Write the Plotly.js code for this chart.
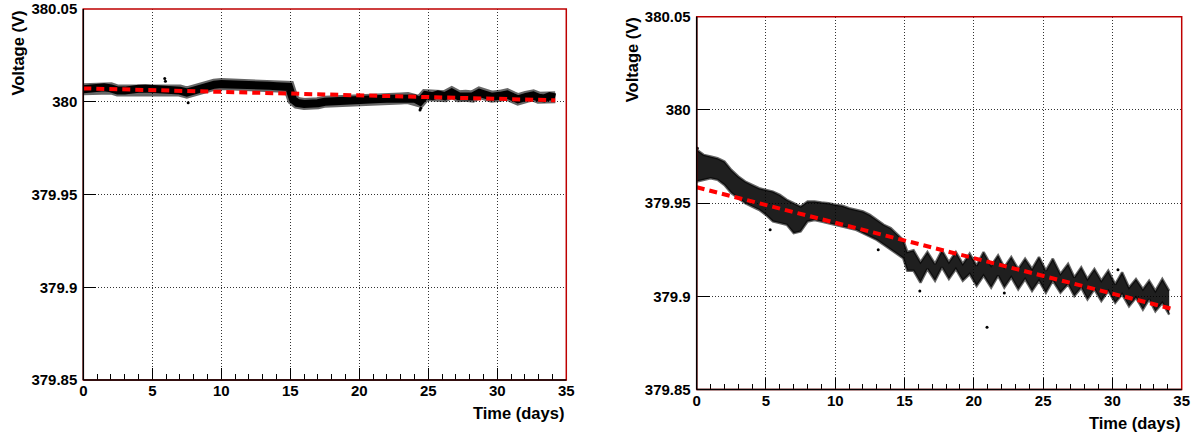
<!DOCTYPE html>
<html><head><meta charset="utf-8">
<script src="https://cdn.plot.ly/plotly-3.0.1.min.js"></script>
<style>html,body{margin:0;padding:0;background:#fff}#chart{width:1195px;height:434px}</style>
</head><body><div id="chart"></div>
<script>
// ---------- data ----------
const yTickVals = [379.85, 379.9, 379.95, 380, 380.05];
const yTickText = ["379.85", "379.9", "379.95", "380", "380.05"];

// Left panel: centre of the (dense) measurement band
const leftT = [0,0.5,1,1.5,2,2.5,3,3.5,4,4.5,5,5.5,6,6.5,7,7.5,8,8.5,9,9.5,10,10.5,11,11.5,12,12.5,13,13.5,14,14.5,
  14.9,15.2,15.5,
  16,16.5,17,17.5,18,18.5,19,19.5,20,20.5,21,21.5,22,22.5,23,23.5,24,
  24.4,24.8,25.3,25.7,26.2,26.7,27.2,27.7,28.2,28.7,29.2,29.6,30.2,30.7,31.1,31.5,32.1,32.6,33.0,33.4,33.8,34.2];
const leftV = [380.0067,380.0072,380.0078,380.0078,380.0072,380.0060,380.0060,380.0068,380.0070,380.0072,380.0070,380.0072,380.0070,380.0066,380.0060,380.0050,380.0062,380.0078,380.0088,380.0092,380.0095,380.0095,380.0094,380.0094,380.0092,380.0090,380.0088,380.0086,380.0084,380.0082,
  380.0080,380.0012,379.9994,
  379.9988,379.9986,379.9992,380.0000,380.0003,380.0004,380.0006,380.0008,380.0010,380.0012,380.0014,380.0015,380.0016,380.0017,380.0018,380.0020,380.0018,
  380.0002,380.0036,380.0030,380.0040,380.0030,380.0050,380.0030,380.0032,380.0028,380.0048,380.0030,380.0027,380.0032,380.0040,380.0026,380.0013,380.0026,380.0034,380.0022,380.0018,380.0030,380.0024];
const leftOutT = [5.9, 5.95, 7.6, 24.4, 24.45];
const leftOutV = [380.0125, 380.0110, 379.9995, 379.9955, 379.9965];
const leftFitT = [0, 34.2];
const leftFitV = [380.0072, 380.0008];

// Right panel: upper / lower envelope of the measurement cloud
const rightT = [0,0.5,1,1.5,2,2.5,3,3.5,4,4.5,5,5.5,6,6.5,7,7.5,8,8.5,9,9.5,10,10.5,11,11.5,12,12.5,13,13.5,14,14.5,14.9,
  15.2,15.65,16.15,16.65,17.2,17.7,18.2,18.7,19.2,19.7,20.2,20.7,21.25,21.75,22.2,22.7,23.2,23.7,24.2,24.7,25.2,25.7,26.25,26.8,27.25,27.75,28.2,28.7,29.2,29.7,30.2,30.7,31.2,31.7,32.2,32.65,33.1,33.6,34.1];
const rightUpper = [379.9786,379.9759,379.9750,379.9741,379.9723,379.9678,379.9643,379.9616,379.9598,379.9580,379.9571,379.9562,379.9544,379.9518,379.9500,379.9482,379.9509,379.9509,379.9503,379.9500,379.9491,379.9486,379.9473,379.9464,379.9455,379.9437,379.9410,379.9384,379.9366,379.9330,379.9303,
  379.9238,379.9247,379.9183,379.9238,379.9174,379.9247,379.9183,379.9238,379.9174,379.9229,379.9165,379.9238,379.9165,379.9220,379.9156,379.9211,379.9147,379.9202,379.9147,379.9211,379.9138,379.9202,379.9120,379.9174,379.9102,379.9156,379.9093,379.9147,379.9084,379.9138,379.9065,379.9129,379.9047,379.9093,379.9038,379.9084,379.9029,379.9093,379.9029];
const rightLower = [379.9616,379.9625,379.9634,379.9625,379.9598,379.9554,379.9527,379.9500,379.9482,379.9464,379.9437,379.9402,379.9393,379.9384,379.9339,379.9348,379.9402,379.9410,379.9402,379.9393,379.9384,379.9378,379.9366,379.9357,379.9339,379.9321,379.9303,379.9277,379.9250,379.9223,379.9205,
  379.9138,379.9138,379.9074,379.9147,379.9084,379.9156,379.9093,379.9147,379.9084,379.9120,379.9056,379.9111,379.9047,379.9111,379.9047,379.9102,379.9038,379.9093,379.9029,379.9084,379.9020,379.9084,379.9020,379.9065,379.9002,379.9047,379.8984,379.9038,379.8975,379.9029,379.8965,379.9011,379.8947,379.8993,379.8929,379.8984,379.8920,379.8965,379.8902];
const rightOutT = [0.05, 5.3, 13.1, 16.1, 20.95, 22.2, 30.4];
const rightOutV = [379.9794, 379.9357, 379.9250, 379.9029, 379.8835, 379.9018, 379.9143];
const rightFitT = [0, 34.2];
const rightFitV = [379.9585, 379.8935];

// ---------- styling ----------
const FONT = "Liberation Sans, Arial, Helvetica, sans-serif";
const W = 1195, H = 434;
const L = {x0: 83.3, x1: 566.3, yt: 9, yb: 380};
const R = {x0: 696.7, x1: 1181.7, yt: 16.7, yb: 389.6};
const fitLine = {color: 'rgb(255,0,0)', width: 4, dash: '8px,5px'};
const GRID = '#333';

function xa(dom, anchor) {
  return {domain: dom, anchor: anchor, range: [0, 35], tick0: 0, dtick: 5, ticks: 'inside', ticklen: 12, tickcolor: '#000', tickwidth: 1,
    showline: false, zeroline: false, showgrid: true, gridcolor: GRID, griddash: '1px,2px', gridwidth: 1,
    minor: {tick0: 0, dtick: 1, ticks: 'inside', ticklen: 6, tickcolor: '#000', tickwidth: 1, showgrid: false},
    tickfont: {family: FONT, size: 15, color: '#000', weight: 'bold'}, automargin: false, fixedrange: true};
}
function ya(dom, anchor) {
  return {domain: dom, anchor: anchor, range: [379.85, 380.05], tickvals: yTickVals, ticktext: yTickText,
    ticks: 'inside', ticklen: 13, tickcolor: '#000', tickwidth: 1, showline: false, zeroline: false,
    showgrid: true, gridcolor: GRID, griddash: '1px,2px', gridwidth: 1, ticklabelstandoff: 5,
    tickfont: {family: FONT, size: 15, color: '#000', weight: 'bold'}, automargin: false, fixedrange: true};
}

const FRINGE = 'rgba(0,0,0,0.6)';
const traces = [
  // fringe + dense core of left band
  {x: leftT, y: leftV, xaxis: 'x', yaxis: 'y', mode: 'lines', line: {color: FRINGE, width: 12}, hoverinfo: 'skip'},
  {x: leftT, y: leftV, xaxis: 'x', yaxis: 'y', mode: 'lines', line: {color: '#000', width: 8}, hoverinfo: 'skip'},
  {x: leftOutT, y: leftOutV, xaxis: 'x', yaxis: 'y', mode: 'markers', marker: {color: '#000', size: 3}, hoverinfo: 'skip'},
  {x: leftFitT, y: leftFitV, xaxis: 'x', yaxis: 'y', mode: 'lines', line: fitLine, hoverinfo: 'skip'},
  // right cloud
  {x: rightT, y: rightLower, xaxis: 'x2', yaxis: 'y2', mode: 'lines', line: {color: FRINGE, width: 2.5}, hoverinfo: 'skip'},
  {x: rightT, y: rightUpper, xaxis: 'x2', yaxis: 'y2', mode: 'lines', fill: 'tonexty', fillcolor: 'rgba(0,0,0,0.88)', line: {color: FRINGE, width: 2.5}, hoverinfo: 'skip'},
  {x: rightOutT, y: rightOutV, xaxis: 'x2', yaxis: 'y2', mode: 'markers', marker: {color: '#000', size: 3}, hoverinfo: 'skip'},
  {x: rightFitT, y: rightFitV, xaxis: 'x2', yaxis: 'y2', mode: 'lines', line: fitLine, hoverinfo: 'skip'}
];

function frame(xr, yr) {
  return [
    {type: 'rect', xref: xr + ' domain', yref: yr + ' domain', x0: 0, x1: 1, y0: 0, y1: 1, line: {color: 'rgb(190,0,0)', width: 1.5}, layer: 'above'},
    {type: 'line', xref: xr + ' domain', yref: yr + ' domain', x0: 0, x1: 0, y0: 0, y1: 1, line: {color: '#000', width: 1.5}, layer: 'above'},
    {type: 'line', xref: xr + ' domain', yref: yr + ' domain', x0: 0, x1: 1, y0: 0, y1: 0, line: {color: '#000', width: 1.5}, layer: 'above'}
  ];
}

const titleFont = {family: FONT, size: 16.5, color: '#000', weight: 'bold'};
const layout = {
  width: W, height: H, autosize: false, showlegend: false,
  paper_bgcolor: '#fff', plot_bgcolor: '#fff',
  margin: {l: 0, r: 0, t: 0, b: 0, pad: 0},
  xaxis: xa([L.x0 / W, L.x1 / W], 'y'),
  yaxis: ya([(H - L.yb) / H, (H - L.yt) / H], 'x'),
  xaxis2: xa([R.x0 / W, R.x1 / W], 'y2'),
  yaxis2: ya([(H - R.yb) / H, (H - R.yt) / H], 'x2'),
  shapes: frame('x', 'y').concat(frame('x2', 'y2')),
  annotations: [
    {text: 'Time (days)', xref: 'x domain', yref: 'paper', x: 1, y: (H - 413) / H, xanchor: 'right', yanchor: 'middle', showarrow: false, font: titleFont},
    {text: 'Time (days)', xref: 'x2 domain', yref: 'paper', x: 1, y: (H - 423) / H, xanchor: 'right', yanchor: 'middle', showarrow: false, font: titleFont},
    {text: 'Voltage (V)', xref: 'paper', yref: 'paper', x: 18 / W, y: (H - 9) / H, xanchor: 'center', yanchor: 'top', textangle: -90, showarrow: false, font: titleFont},
    {text: 'Voltage (V)', xref: 'paper', yref: 'paper', x: 631.7 / W, y: (H - 15) / H, xanchor: 'center', yanchor: 'top', textangle: -90, showarrow: false, font: titleFont}
  ]
};

Plotly.newPlot('chart', traces, layout, {staticPlot: true, displayModeBar: false});
</script>
</body></html>
